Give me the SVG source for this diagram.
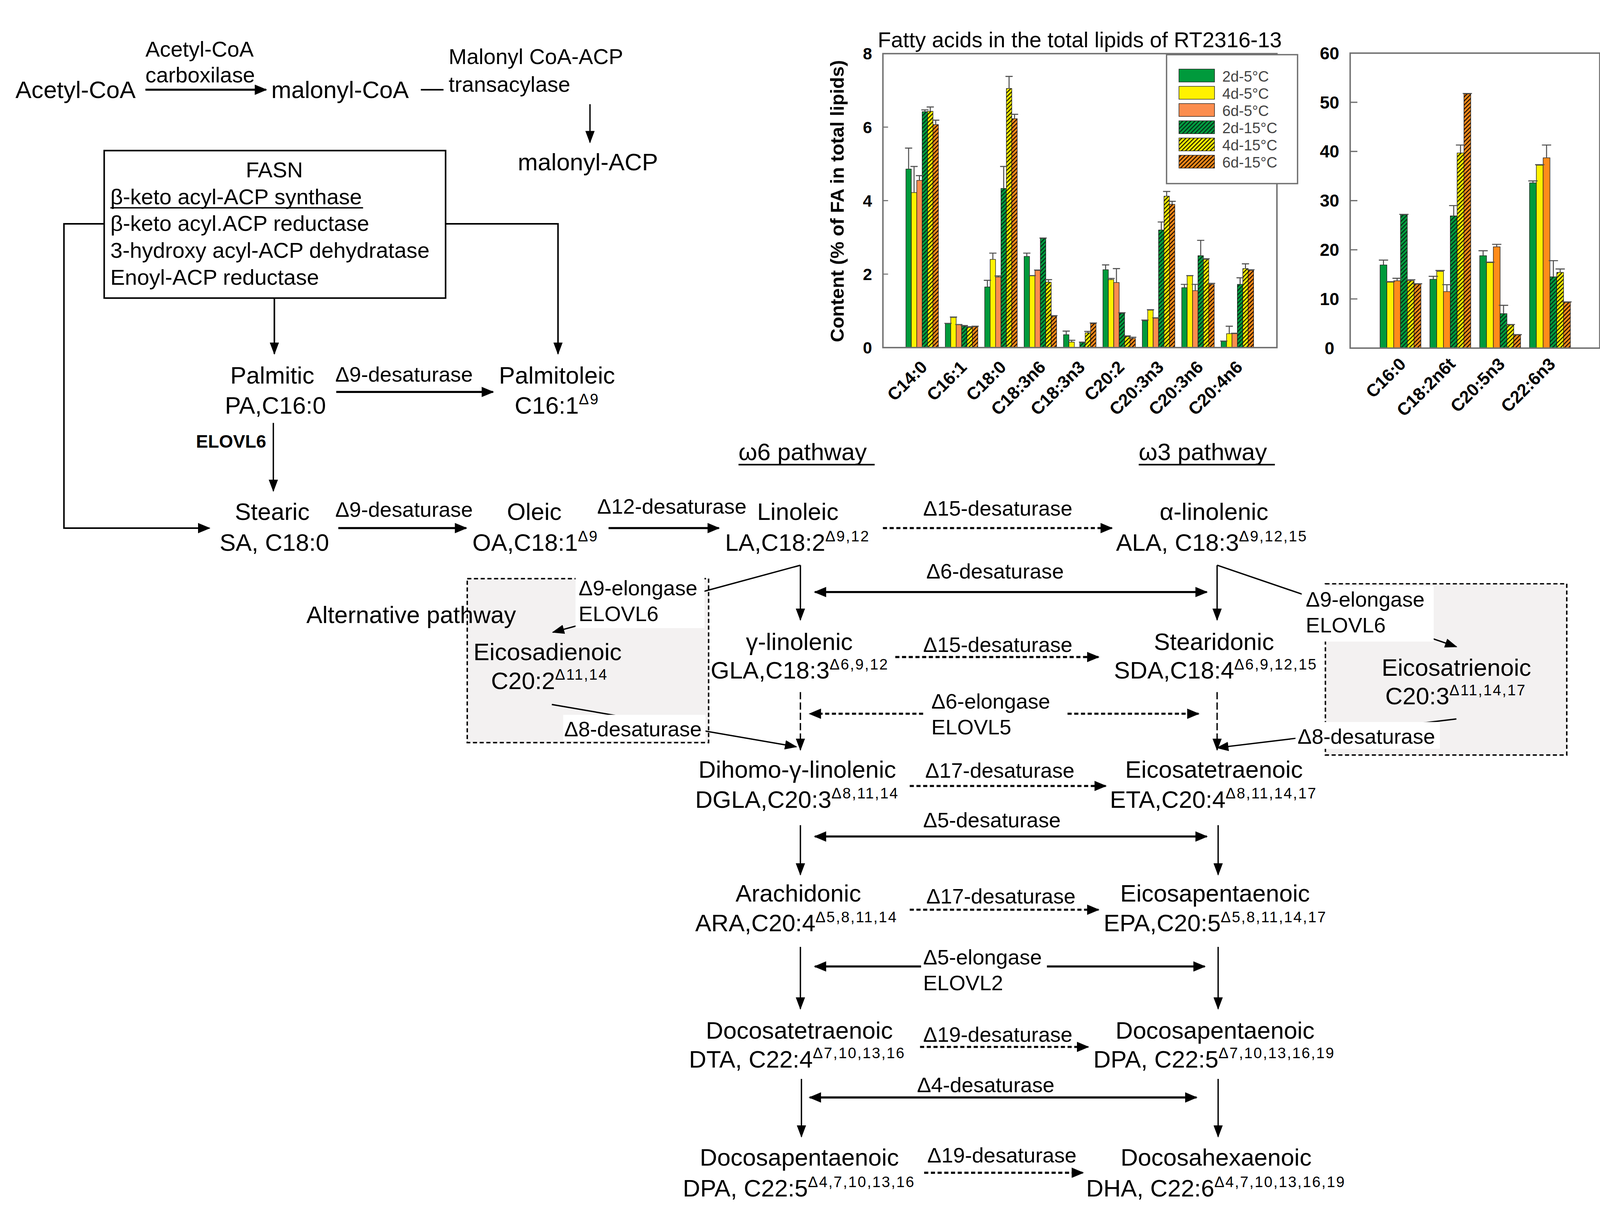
<svg xmlns="http://www.w3.org/2000/svg" width="4141" height="3136" viewBox="0 0 4141 3136">
<style>
text{font-family:"Liberation Sans",Arial,sans-serif;fill:#000}
.n{font-size:23.3px}
.e{font-size:20.5px}
.fb{font-size:21.2px}
.t{font-size:21px}
.sp{font-size:14.6px;letter-spacing:1px}
.bd{font-weight:bold}
.ax{font-size:16px;font-weight:bold}
.ax2{font-size:17px;font-weight:bold}
.xl{font-size:17px;font-weight:bold;text-anchor:end}
.lg{font-size:14.5px;fill:#444}
.ln{stroke:#000;fill:none}
.thick{stroke-width:2}
.thin{stroke-width:1.3}
.dash{stroke-dasharray:4 2.5}
.vdash{stroke-dasharray:7 3}
.alt{fill:#f3f1f1;stroke:#000;stroke-width:1.4;stroke-dasharray:4 2.5}
.wb{fill:#fff}
.frame{fill:none;stroke:#707070;stroke-width:1.4}
.bar{stroke:#1a1a1a;stroke-width:0.5}
.err{fill:none;stroke:#505050;stroke-width:1}
</style>
<defs>
<marker id="ah" viewBox="0 0 12 10" refX="11" refY="5" markerWidth="12" markerHeight="10" orient="auto-start-reverse" markerUnits="userSpaceOnUse"><path d="M0,0 L12,5 L0,10 z" fill="#000"/></marker>
<marker id="av" viewBox="0 0 12 9" refX="11" refY="4.5" markerWidth="12" markerHeight="9" orient="auto" markerUnits="userSpaceOnUse"><path d="M0,0 L12,4.5 L0,9 z" fill="#000"/></marker>
<pattern id="hg" patternUnits="userSpaceOnUse" width="2.8" height="2.8" patternTransform="rotate(45)"><rect width="2.8" height="2.8" fill="#00a040"/><rect width="1.1" height="2.8" fill="#06301a"/></pattern>
<pattern id="hy" patternUnits="userSpaceOnUse" width="2.8" height="2.8" patternTransform="rotate(45)"><rect width="2.8" height="2.8" fill="#fff200"/><rect width="1.1" height="2.8" fill="#2a2a00"/></pattern>
<pattern id="ho" patternUnits="userSpaceOnUse" width="2.8" height="2.8" patternTransform="rotate(45)"><rect width="2.8" height="2.8" fill="#ff8c1a"/><rect width="1.1" height="2.8" fill="#2a1500"/></pattern>
</defs>
<rect width="4141" height="3136" fill="#fff"/>
<g transform="scale(2.6405)">

<!-- alternative pathway boxes -->
<g id="alt-box-w6">
<rect class="alt" x="453" y="561" width="234" height="159"/>
</g>
<g id="alt-box-w3">
<rect class="alt" x="1285" y="566" width="234" height="166"/>
</g>

<!-- connectors -->
<g id="connectors">
<line class="ln thick" x1="141" y1="87" x2="258" y2="87" marker-end="url(#ah)"/>
<line class="ln" stroke-width="1.5" x1="408" y1="87" x2="430" y2="87"/>
<line class="ln thin" x1="572" y1="101" x2="572" y2="138" marker-end="url(#av)"/>
<polyline class="ln" stroke-width="1.5" points="101,217 62,217 62,512 203,512" marker-end="url(#ah)"/>
<polyline class="ln" stroke="#444" stroke-width="1.5" points="432,217 541,217 541,343" marker-end="url(#av)"/>
<line class="ln" stroke-width="1.5" x1="266" y1="289" x2="266" y2="343" marker-end="url(#av)"/>
<line class="ln thick" x1="326" y1="380" x2="478" y2="380" marker-end="url(#ah)"/>
<line class="ln thin" x1="265" y1="410" x2="265" y2="476" marker-end="url(#av)"/>
<line class="ln thick" x1="328" y1="512" x2="452" y2="512" marker-end="url(#ah)"/>
<line class="ln thick" x1="590" y1="512" x2="697" y2="512" marker-end="url(#ah)"/>
<line class="ln thick dash" x1="856" y1="512" x2="1078" y2="512" marker-end="url(#ah)"/>
<line class="ln thin" x1="776" y1="548" x2="776" y2="601" marker-end="url(#av)"/>
<line class="ln thin" x1="1180" y1="548" x2="1180" y2="601" marker-end="url(#av)"/>
<line class="ln thin" x1="776" y1="548" x2="536" y2="613" marker-end="url(#av)"/>
<line class="ln thin" x1="1180" y1="548" x2="1412" y2="627" marker-end="url(#av)"/>
<line class="ln thick" x1="790" y1="574" x2="1170" y2="574" marker-start="url(#ah)" marker-end="url(#ah)"/>
<line class="ln thick dash" x1="868" y1="637" x2="1065" y2="637" marker-end="url(#ah)"/>
<line class="ln thin vdash" x1="776" y1="671" x2="776" y2="727" marker-end="url(#av)"/>
<line class="ln thin vdash" x1="1180" y1="671" x2="1180" y2="727" marker-end="url(#av)"/>
<line class="ln thin" x1="535" y1="683" x2="772" y2="724" marker-end="url(#av)"/>
<line class="ln thin" x1="1412" y1="697" x2="1180" y2="725" marker-end="url(#av)"/>
<line class="ln thick dash" x1="895" y1="692" x2="785" y2="692" marker-end="url(#ah)"/>
<line class="ln thick dash" x1="1035" y1="692" x2="1162" y2="692" marker-end="url(#ah)"/>
<line class="ln thick dash" x1="882" y1="762" x2="1072" y2="762" marker-end="url(#ah)"/>
<line class="ln thick" x1="790" y1="811" x2="1170" y2="811" marker-start="url(#ah)" marker-end="url(#ah)"/>
<line class="ln thin" x1="776" y1="800" x2="776" y2="848" marker-end="url(#av)"/>
<line class="ln thin" x1="1181" y1="800" x2="1181" y2="848" marker-end="url(#av)"/>
<line class="ln thick dash" x1="882" y1="882" x2="1065" y2="882" marker-end="url(#ah)"/>
<line class="ln thick" x1="893" y1="937" x2="790" y2="937" marker-end="url(#ah)"/>
<line class="ln thick" x1="1015" y1="937" x2="1168" y2="937" marker-end="url(#ah)"/>
<line class="ln thin" x1="776" y1="918" x2="776" y2="978" marker-end="url(#av)"/>
<line class="ln thin" x1="1181" y1="918" x2="1181" y2="978" marker-end="url(#av)"/>
<line class="ln thick dash" x1="892" y1="1015" x2="1055" y2="1015" marker-end="url(#ah)"/>
<line class="ln thick" x1="785" y1="1064" x2="1160" y2="1064" marker-start="url(#ah)" marker-end="url(#ah)"/>
<line class="ln thin" x1="777" y1="1046" x2="777" y2="1102" marker-end="url(#av)"/>
<line class="ln thin" x1="1181" y1="1046" x2="1181" y2="1102" marker-end="url(#av)"/>
<line class="ln thick dash" x1="896" y1="1137" x2="1050" y2="1137" marker-end="url(#ah)"/>
</g>

<!-- label backgrounds -->
<g id="label-backgrounds">
<rect class="wb" x="558" y="559" width="125" height="50"/>
<rect class="wb" x="546" y="693" width="138" height="25"/>
<rect class="wb" x="1262" y="568" width="128" height="54"/>
<rect class="wb" x="1256" y="700" width="140" height="26"/>
</g>

<!-- top: acetyl-CoA chain -->
<g id="acetyl-coa"><text class="n" x="15" y="95">Acetyl-CoA</text></g>
<g id="enz-acc"><text class="t" x="141" y="55">Acetyl-CoA</text><text class="t" x="141" y="80">carboxilase</text></g>
<g id="malonyl-coa"><text class="n" x="263" y="95">malonyl-CoA</text></g>
<g id="enz-mcat"><text class="t" x="435" y="62">Malonyl CoA-ACP</text><text class="t" x="435" y="89">transacylase</text></g>
<g id="malonyl-acp"><text class="n" x="502" y="165">malonyl-ACP</text></g>

<g id="fasn">
<rect x="101" y="146" width="331" height="143" fill="#fff" stroke="#000" stroke-width="1.5"/>
<text class="fb" x="266" y="172" text-anchor="middle">FASN</text>
<text class="fb" x="107" y="198">β-keto acyl-ACP synthase</text>
<line x1="107" y1="201.5" x2="352" y2="201.5" stroke="#000" stroke-width="1.3"/>
<text class="fb" x="107" y="224">β-keto acyl.ACP reductase</text>
<text class="fb" x="107" y="250">3-hydroxy acyl-ACP dehydratase</text>
<text class="fb" x="107" y="276">Enoyl-ACP reductase</text>
</g>

<g id="palmitic"><text class="n" x="264" y="372" text-anchor="middle">Palmitic</text><text class="n" x="267" y="401" text-anchor="middle">PA,C16:0</text></g>
<g id="enz-d9a"><text class="e" x="325" y="370">Δ9-desaturase</text></g>
<g id="palmitoleic"><text class="n" x="540" y="372" text-anchor="middle">Palmitoleic</text><text class="n" x="499" y="401">C16:1<tspan class="sp" dy="-9">Δ9</tspan></text></g>
<g id="enz-elovl6"><text class="bd" font-size="17.5" x="190" y="434">ELOVL6</text></g>

<g id="stearic"><text class="n" x="264" y="504" text-anchor="middle">Stearic</text><text class="n" x="266" y="534" text-anchor="middle">SA, C18:0</text></g>
<g id="enz-d9b"><text class="e" x="325" y="501">Δ9-desaturase</text></g>
<g id="oleic"><text class="n" x="518" y="504" text-anchor="middle">Oleic</text><text class="n" x="458" y="534">OA,C18:1<tspan class="sp" dy="-9">Δ9</tspan></text></g>
<g id="enz-d12"><text class="e" x="579" y="498">Δ12-desaturase</text></g>
<g id="linoleic"><text class="n" x="734" y="504">Linoleic</text><text class="n" x="703" y="534">LA,C18:2<tspan class="sp" dy="-9">Δ9,12</tspan></text></g>
<g id="enz-d15a"><text class="e" x="895" y="500">Δ15-desaturase</text></g>
<g id="a-linolenic"><text class="n" x="1177" y="504" text-anchor="middle">α-linolenic</text><text class="n" x="1082" y="534">ALA, C18:3<tspan class="sp" dy="-9">Δ9,12,15</tspan></text></g>

<g id="w6-title"><text class="n" x="716" y="446">ω6 pathway</text><line x1="716" y1="450.5" x2="848" y2="450.5" stroke="#000" stroke-width="1.5"/></g>
<g id="w3-title"><text class="n" x="1104" y="446">ω3 pathway</text><line x1="1104" y1="450.5" x2="1236" y2="450.5" stroke="#000" stroke-width="1.5"/></g>

<g id="alt-label"><text class="n" x="297" y="604">Alternative pathway</text></g>
<g id="enz-d9elo-a"><text class="e" x="561" y="577">Δ9-elongase</text><text class="e" x="561" y="602">ELOVL6</text></g>
<g id="eicosadienoic"><text class="n" x="459" y="640">Eicosadienoic</text><text class="n" x="476" y="668">C20:2<tspan class="sp" dy="-9">Δ11,14</tspan></text></g>
<g id="enz-d8a"><text class="e" x="547" y="714">Δ8-desaturase</text></g>

<g id="enz-d6"><text class="e" x="898" y="561">Δ6-desaturase</text></g>
<g id="enz-d9elo-b"><text class="e" x="1266" y="588">Δ9-elongase</text><text class="e" x="1266" y="613">ELOVL6</text></g>
<g id="eicosatrienoic"><text class="n" x="1412" y="655" text-anchor="middle">Eicosatrienoic</text><text class="n" x="1343" y="683">C20:3<tspan class="sp" dy="-9">Δ11,14,17</tspan></text></g>
<g id="enz-d8b"><text class="e" x="1258" y="721">Δ8-desaturase</text></g>

<g id="g-linolenic"><text class="n" x="775" y="630" text-anchor="middle">γ-linolenic</text><text class="n" x="689" y="658">GLA,C18:3<tspan class="sp" dy="-9">Δ6,9,12</tspan></text></g>
<g id="enz-d15b"><text class="e" x="895" y="632">Δ15-desaturase</text></g>
<g id="stearidonic"><text class="n" x="1177" y="630" text-anchor="middle">Stearidonic</text><text class="n" x="1080" y="658">SDA,C18:4<tspan class="sp" dy="-9">Δ6,9,12,15</tspan></text></g>
<g id="enz-d6elo"><text class="e" x="903" y="687">Δ6-elongase</text><text class="e" x="903" y="712">ELOVL5</text></g>

<g id="dgla"><text class="n" x="773" y="754" text-anchor="middle">Dihomo-γ-linolenic</text><text class="n" x="674" y="783">DGLA,C20:3<tspan class="sp" dy="-9">Δ8,11,14</tspan></text></g>
<g id="enz-d17a"><text class="e" x="897" y="754">Δ17-desaturase</text></g>
<g id="eta"><text class="n" x="1177" y="754" text-anchor="middle">Eicosatetraenoic</text><text class="n" x="1076" y="783">ETA,C20:4<tspan class="sp" dy="-9">Δ8,11,14,17</tspan></text></g>
<g id="enz-d5"><text class="e" x="895" y="802">Δ5-desaturase</text></g>

<g id="ara"><text class="n" x="774" y="874" text-anchor="middle">Arachidonic</text><text class="n" x="674" y="903">ARA,C20:4<tspan class="sp" dy="-9">Δ5,8,11,14</tspan></text></g>
<g id="enz-d17b"><text class="e" x="898" y="876">Δ17-desaturase</text></g>
<g id="epa"><text class="n" x="1178" y="874" text-anchor="middle">Eicosapentaenoic</text><text class="n" x="1070" y="903">EPA,C20:5<tspan class="sp" dy="-9">Δ5,8,11,14,17</tspan></text></g>
<g id="enz-d5elo"><text class="e" x="895" y="935">Δ5-elongase</text><text class="e" x="895" y="960">ELOVL2</text></g>

<g id="dta"><text class="n" x="775" y="1007" text-anchor="middle">Docosatetraenoic</text><text class="n" x="668" y="1035">DTA, C22:4<tspan class="sp" dy="-9">Δ7,10,13,16</tspan></text></g>
<g id="enz-d19a"><text class="e" x="895" y="1010">Δ19-desaturase</text></g>
<g id="dpa-w3"><text class="n" x="1178" y="1007" text-anchor="middle">Docosapentaenoic</text><text class="n" x="1060" y="1035">DPA, C22:5<tspan class="sp" dy="-9">Δ7,10,13,16,19</tspan></text></g>
<g id="enz-d4"><text class="e" x="889" y="1059">Δ4-desaturase</text></g>

<g id="dpa-w6"><text class="n" x="775" y="1130" text-anchor="middle">Docosapentaenoic</text><text class="n" x="662" y="1160">DPA, C22:5<tspan class="sp" dy="-9">Δ4,7,10,13,16</tspan></text></g>
<g id="enz-d19b"><text class="e" x="899" y="1127">Δ19-desaturase</text></g>
<g id="dha"><text class="n" x="1179" y="1130" text-anchor="middle">Docosahexaenoic</text><text class="n" x="1053" y="1160">DHA, C22:6<tspan class="sp" dy="-9">Δ4,7,10,13,16,19</tspan></text></g>

<!-- chart 1 -->
<g id="chart1">
<text class="t" x="851" y="46">Fatty acids in the total lipids of RT2316-13</text>
<text class="bd" font-size="18.5" transform="translate(818,195) rotate(-90)" text-anchor="middle">Content (% of FA in total lipids)</text>
<g class="ax" text-anchor="middle">
<text x="841" y="342.7">0</text><text x="841" y="271.5">2</text><text x="841" y="200.2">4</text><text x="841" y="129">6</text><text x="841" y="57.7">8</text>
</g>
<path d="M856 265.75h5M856 194.5h5M856 123.25h5" stroke="#707070" stroke-width="1"/>
<g class="bar">
<rect x="878.3" y="163.9" width="5.25" height="173.1" fill="#009a3c"/>
<rect x="883.55" y="186.7" width="5.25" height="150.3" fill="#fff200"/>
<rect x="888.8" y="174.9" width="5.25" height="162.1" fill="#fb8d4e"/>
<rect x="894.05" y="108.3" width="5.25" height="228.7" fill="url(#hg)"/>
<rect x="899.3" y="107.9" width="5.25" height="229.1" fill="url(#hy)"/>
<rect x="904.55" y="120.8" width="5.25" height="216.2" fill="url(#ho)"/>

<rect x="916.5" y="313.8" width="5.25" height="23.2" fill="#009a3c"/>
<rect x="921.75" y="307.8" width="5.25" height="29.2" fill="#fff200"/>
<rect x="927" y="314.9" width="5.25" height="22.1" fill="#fb8d4e"/>
<rect x="932.25" y="316.3" width="5.25" height="20.7" fill="url(#hg)"/>
<rect x="937.5" y="317.4" width="5.25" height="19.6" fill="url(#hy)"/>
<rect x="942.75" y="316.7" width="5.25" height="20.3" fill="url(#ho)"/>

<rect x="954.7" y="278.2" width="5.25" height="58.8" fill="#009a3c"/>
<rect x="959.95" y="251.5" width="5.25" height="85.5" fill="#fff200"/>
<rect x="965.2" y="268.6" width="5.25" height="68.4" fill="#fb8d4e"/>
<rect x="970.45" y="182.7" width="5.25" height="154.3" fill="url(#hg)"/>
<rect x="975.7" y="85.8" width="5.25" height="251.2" fill="url(#hy)"/>
<rect x="980.95" y="115.1" width="5.25" height="221.9" fill="url(#ho)"/>

<rect x="992.9" y="248.6" width="5.25" height="88.4" fill="#009a3c"/>
<rect x="998.15" y="267.5" width="5.25" height="69.5" fill="#fff200"/>
<rect x="1003.4" y="262.2" width="5.25" height="74.8" fill="#fb8d4e"/>
<rect x="1008.65" y="231.2" width="5.25" height="105.8" fill="url(#hg)"/>
<rect x="1013.9" y="273.6" width="5.25" height="63.4" fill="url(#hy)"/>
<rect x="1019.15" y="306.7" width="5.25" height="30.3" fill="url(#ho)"/>

<rect x="1031.1" y="324.5" width="5.25" height="12.5" fill="#009a3c"/>
<rect x="1036.35" y="331.7" width="5.25" height="5.3" fill="#fff200"/>
<rect x="1046.85" y="332" width="5.25" height="5" fill="url(#hg)"/>
<rect x="1052.1" y="322.7" width="5.25" height="14.3" fill="url(#hy)"/>
<rect x="1057.35" y="313.8" width="5.25" height="23.2" fill="url(#ho)"/>

<rect x="1069.3" y="261.5" width="5.25" height="75.5" fill="#009a3c"/>
<rect x="1074.55" y="271.1" width="5.25" height="65.9" fill="#fff200"/>
<rect x="1079.8" y="273.9" width="5.25" height="63.1" fill="#fb8d4e"/>
<rect x="1085.05" y="303.9" width="5.25" height="33.1" fill="url(#hg)"/>
<rect x="1090.3" y="326.3" width="5.25" height="10.7" fill="url(#hy)"/>
<rect x="1095.55" y="328.1" width="5.25" height="8.9" fill="url(#ho)"/>

<rect x="1107.5" y="311" width="5.25" height="26" fill="#009a3c"/>
<rect x="1112.75" y="300.7" width="5.25" height="36.3" fill="#fff200"/>
<rect x="1118" y="308.5" width="5.25" height="28.5" fill="#fb8d4e"/>
<rect x="1123.25" y="223" width="5.25" height="114" fill="url(#hg)"/>
<rect x="1128.5" y="190.2" width="5.25" height="146.8" fill="url(#hy)"/>
<rect x="1133.75" y="198.1" width="5.25" height="138.9" fill="url(#ho)"/>

<rect x="1145.7" y="278.9" width="5.25" height="58.1" fill="#009a3c"/>
<rect x="1150.95" y="267.5" width="5.25" height="69.5" fill="#fff200"/>
<rect x="1156.2" y="281.8" width="5.25" height="55.2" fill="#fb8d4e"/>
<rect x="1161.45" y="247.9" width="5.25" height="89.1" fill="url(#hg)"/>
<rect x="1166.7" y="251.5" width="5.25" height="85.5" fill="url(#hy)"/>
<rect x="1171.95" y="275.7" width="5.25" height="61.3" fill="url(#ho)"/>

<rect x="1183.9" y="330.9" width="5.25" height="6.1" fill="#009a3c"/>
<rect x="1189.15" y="323.5" width="5.25" height="13.5" fill="#fff200"/>
<rect x="1194.4" y="323.5" width="5.25" height="13.5" fill="#fb8d4e"/>
<rect x="1199.65" y="275.7" width="5.25" height="61.3" fill="url(#hg)"/>
<rect x="1204.9" y="260.4" width="5.25" height="76.6" fill="url(#hy)"/>
<rect x="1210.15" y="262.2" width="5.25" height="74.8" fill="url(#ho)"/>
</g>
<path class="err" d="M880.9 163.9V143.6M877.4 143.6h7M886.2 186.7V161.4M882.7 161.4h7M891.4 174.9V170.3M887.9 170.3h7M896.7 108.3V106.5M893.2 106.5h7M901.9 107.9V103.7M898.4 103.7h7M907.2 120.8V116.5M903.7 116.5h7M919.1 313.8V313.5M915.6 313.5h7M924.4 307.8V307.4M920.9 307.4h7M929.6 314.9V314.6M926.1 314.6h7M934.9 316.3V315.6M931.4 315.6h7M940.1 317.4V316.7M936.6 316.7h7M945.4 316.7V316.3M941.9 316.3h7M957.3 278.2V271.8M953.8 271.8h7M962.6 251.5V245.4M959.1 245.4h7M967.8 268.6V267.5M964.3 267.5h7M973.1 182.7V161.4M969.6 161.4h7M978.3 85.8V74.1M974.8 74.1h7M983.6 115.1V110.8M980.1 110.8h7M995.5 248.6V245.4M992 245.4h7M1000.8 267.5V267.2M997.3 267.2h7M1006 262.2V261.8M1002.5 261.8h7M1011.3 231.2V230.8M1007.8 230.8h7M1016.5 273.6V271.1M1013 271.1h7M1021.8 306.7V306M1018.3 306h7M1033.7 324.5V321M1030.2 321h7M1039 331.7V329.9M1035.5 329.9h7M1049.5 332V331.7M1046 331.7h7M1054.7 322.7V321.3M1051.2 321.3h7M1060 313.8V313.1M1056.5 313.1h7M1071.9 261.5V256.8M1068.4 256.8h7M1077.2 271.1V270M1073.7 270h7M1082.4 273.9V260.4M1078.9 260.4h7M1087.7 303.9V303.2M1084.2 303.2h7M1092.9 326.3V325.6M1089.4 325.6h7M1098.2 328.1V327M1094.7 327h7M1110.1 311V310.3M1106.6 310.3h7M1115.4 300.7V300.3M1111.9 300.3h7M1120.6 308.5V308.1M1117.1 308.1h7M1125.9 223V215.2M1122.4 215.2h7M1131.1 190.2V185.6M1127.6 185.6h7M1136.4 198.1V195.2M1132.9 195.2h7M1148.3 278.9V275.7M1144.8 275.7h7M1153.6 267.5V267.2M1150.1 267.2h7M1158.8 281.8V275.7M1155.3 275.7h7M1164.1 247.9V233M1160.6 233h7M1169.3 251.5V250.8M1165.8 250.8h7M1174.6 275.7V274.7M1171.1 274.7h7M1186.5 330.9V330.6M1183 330.6h7M1191.8 323.5V316.3M1188.3 316.3h7M1197 323.5V323.1M1193.5 323.1h7M1202.3 275.7V269.3M1198.8 269.3h7M1207.5 260.4V255.8M1204 255.8h7M1212.8 262.2V261.5M1209.3 261.5h7"/>
<rect class="frame" x="856" y="52" width="382" height="285"/>
<g id="legend">
<rect x="1131" y="53" width="127" height="125" fill="#fff" stroke="#707070" stroke-width="1.3"/>
<g class="bar" stroke-width="0.8">
<rect x="1143" y="67" width="34.5" height="12.5" fill="#009a3c"/>
<rect x="1143" y="83.7" width="34.5" height="12.5" fill="#fff200"/>
<rect x="1143" y="100.4" width="34.5" height="12.5" fill="#fb8d4e"/>
<rect x="1143" y="117.1" width="34.5" height="12.5" fill="url(#hg)"/>
<rect x="1143" y="133.8" width="34.5" height="12.5" fill="url(#hy)"/>
<rect x="1143" y="150.5" width="34.5" height="12.5" fill="url(#ho)"/>
</g>
<text class="lg" x="1185" y="79">2d-5°C</text>
<text class="lg" x="1185" y="95.7">4d-5°C</text>
<text class="lg" x="1185" y="112.4">6d-5°C</text>
<text class="lg" x="1185" y="129.1">2d-15°C</text>
<text class="lg" x="1185" y="145.8">4d-15°C</text>
<text class="lg" x="1185" y="162.5">6d-15°C</text>
</g>
<text class="xl" transform="translate(900,357) rotate(-45)">C14:0</text>
<text class="xl" transform="translate(938.3,357) rotate(-45)">C16:1</text>
<text class="xl" transform="translate(976.5,357) rotate(-45)">C18:0</text>
<text class="xl" transform="translate(1014.7,357) rotate(-45)">C18:3n6</text>
<text class="xl" transform="translate(1052.9,357) rotate(-45)">C18:3n3</text>
<text class="xl" transform="translate(1091.1,357) rotate(-45)">C20:2</text>
<text class="xl" transform="translate(1129.3,357) rotate(-45)">C20:3n3</text>
<text class="xl" transform="translate(1167.5,357) rotate(-45)">C20:3n6</text>
<text class="xl" transform="translate(1205.7,357) rotate(-45)">C20:4n6</text>
</g>

<!-- chart 2 -->
<g id="chart2">
<g class="ax2" text-anchor="middle">
<text x="1289" y="343.5">0</text><text x="1289" y="295.8">10</text><text x="1289" y="248.2">20</text><text x="1289" y="200.5">30</text><text x="1289" y="152.8">40</text><text x="1289" y="105.2">50</text><text x="1289" y="57.5">60</text>
</g>
<path d="M1309 289.8h7M1309 242.2h7M1309 194.5h7M1309 146.8h7M1309 99.2h7" stroke="#707070" stroke-width="1.2"/>
<g class="bar">
<rect x="1338" y="256.9" width="6.6" height="80.6" fill="#009a3c"/>
<rect x="1344.6" y="273.6" width="6.6" height="63.9" fill="#fff200"/>
<rect x="1351.2" y="272.2" width="6.6" height="65.3" fill="#ff8c1a"/>
<rect x="1357.8" y="208.3" width="6.6" height="129.2" fill="url(#hg)"/>
<rect x="1364.4" y="272.2" width="6.6" height="65.3" fill="url(#hy)"/>
<rect x="1371" y="275.5" width="6.6" height="62" fill="url(#ho)"/>

<rect x="1386.3" y="270.8" width="6.6" height="66.7" fill="#009a3c"/>
<rect x="1392.9" y="263.1" width="6.6" height="74.4" fill="#fff200"/>
<rect x="1399.5" y="282.7" width="6.6" height="54.8" fill="#ff8c1a"/>
<rect x="1406.1" y="209.3" width="6.6" height="128.2" fill="url(#hg)"/>
<rect x="1412.7" y="148.3" width="6.6" height="189.2" fill="url(#hy)"/>
<rect x="1419.3" y="91.1" width="6.6" height="246.4" fill="url(#ho)"/>

<rect x="1434.6" y="247.9" width="6.6" height="89.6" fill="#009a3c"/>
<rect x="1441.2" y="254.6" width="6.6" height="82.9" fill="#fff200"/>
<rect x="1447.8" y="239.3" width="6.6" height="98.2" fill="#ff8c1a"/>
<rect x="1454.4" y="304.1" width="6.6" height="33.4" fill="url(#hg)"/>
<rect x="1461" y="315.1" width="6.6" height="22.4" fill="url(#hy)"/>
<rect x="1467.6" y="324.8" width="6.6" height="12.7" fill="url(#ho)"/>

<rect x="1482.9" y="177.3" width="6.6" height="160.2" fill="#009a3c"/>
<rect x="1489.5" y="160.2" width="6.6" height="177.3" fill="#fff200"/>
<rect x="1496.1" y="153" width="6.6" height="184.5" fill="#ff8c1a"/>
<rect x="1502.7" y="268.4" width="6.6" height="69.1" fill="url(#hg)"/>
<rect x="1509.3" y="264.1" width="6.6" height="73.4" fill="url(#hy)"/>
<rect x="1515.9" y="293.2" width="6.6" height="44.3" fill="url(#ho)"/>
</g>
<path class="err" d="M1341.3 256.9V252.2M1336.8 252.2h9M1347.9 273.6V273.1M1343.4 273.1h9M1354.5 272.2V269.8M1350 269.8h9M1361.1 208.3V207.8M1356.6 207.8h9M1367.7 272.2V271.2M1363.2 271.2h9M1374.3 275.5V275.1M1369.8 275.1h9M1389.6 270.8V267.9M1385.1 267.9h9M1396.2 263.1V262.2M1391.7 262.2h9M1402.8 282.7V276M1398.3 276h9M1409.4 209.3V199.3M1404.9 199.3h9M1416 148.3V140.6M1411.5 140.6h9M1422.6 91.1V90.6M1418.1 90.6h9M1437.9 247.9V243.1M1433.4 243.1h9M1444.5 254.6V254.1M1440 254.1h9M1451.1 239.3V236.9M1446.6 236.9h9M1457.7 304.1V296M1453.2 296h9M1464.3 315.1V314.6M1459.8 314.6h9M1470.9 324.8V324.4M1466.4 324.4h9M1486.2 177.3V175.4M1481.7 175.4h9M1492.8 160.2V159.7M1488.3 159.7h9M1499.4 153V140.6M1494.9 140.6h9M1506 268.4V252.7M1501.5 252.7h9M1512.6 264.1V260.8M1508.1 260.8h9M1519.2 293.2V292.7M1514.7 292.7h9"/>
<rect class="frame" x="1309" y="51.5" width="242" height="286"/>
<text class="xl" transform="translate(1364,354) rotate(-45)">C16:0</text>
<text class="xl" transform="translate(1412,354) rotate(-45)">C18:2n6t</text>
<text class="xl" transform="translate(1460,354) rotate(-45)">C20:5n3</text>
<text class="xl" transform="translate(1509,354) rotate(-45)">C22:6n3</text>
</g>

</g>
</svg>
